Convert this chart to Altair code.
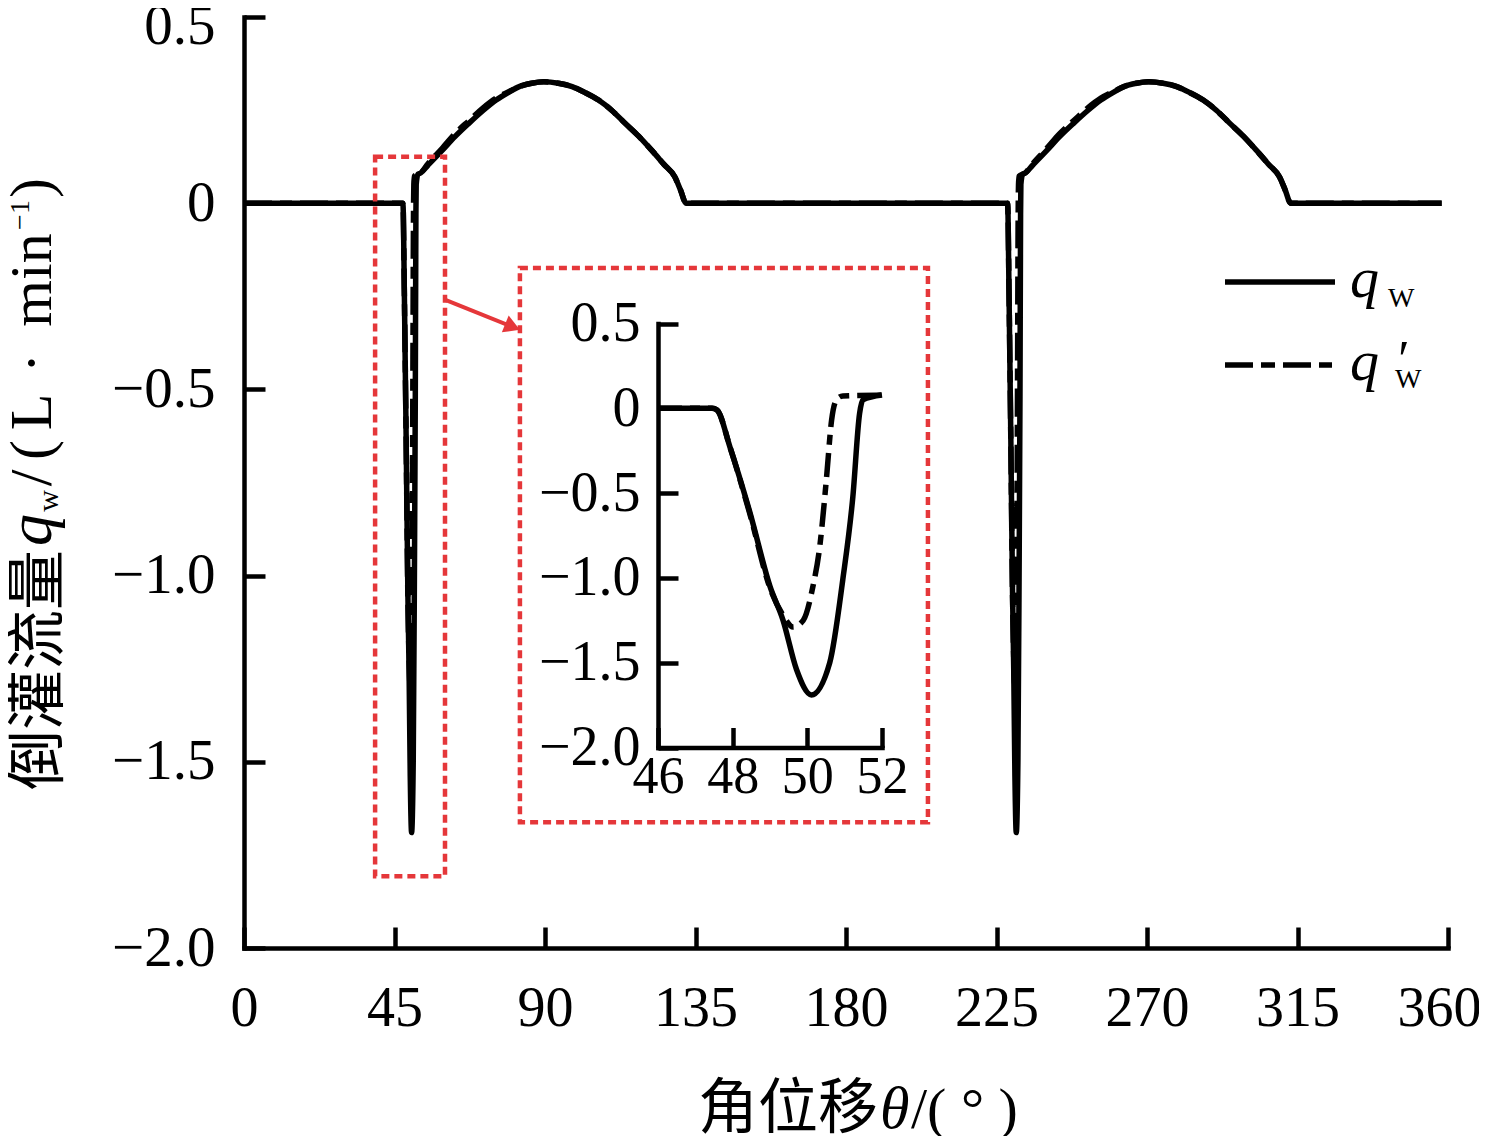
import altair as alt
import pandas as pd

SERIF = "Liberation Serif"
CJK = "Noto Sans CJK SC"
RED = "#E5373A"

# ---------------- data ----------------
# q_w  (solid)
theta_qw = [0, 46.0, 47.45, 47.58, 47.93, 48.47, 49.0, 49.35, 49.71, 50.11, 50.6, 50.95, 51.22, 51.4, 51.49,
            52.0, 52.6, 55.0, 59.4, 63.0, 67.3, 71.5, 75.4, 79.0, 82.3, 86.0, 89.7, 94.0, 98.1, 102.0, 106.0,
            110.0, 113.9, 118.0, 121.8, 125.5, 128.8, 130.5, 132.2,
            228.25, 228.38, 228.73, 229.27, 229.8, 230.15, 230.51, 230.91, 231.4, 231.75, 232.02, 232.2, 232.29,
            232.8, 233.4, 235.8, 240.2, 243.8, 248.1, 252.3, 256.2, 259.8, 263.1, 266.8, 270.5, 274.8, 278.9,
            282.8, 286.8, 290.8, 294.7, 298.8, 302.6, 306.3, 309.6, 311.3, 313.0, 358.1]
qw = [0, 0, 0, -0.01, -0.23, -0.62, -1.05, -1.25, -1.54, -1.69, -1.50, -1.01, -0.52, -0.03, 0.05,
      0.078, 0.08, 0.102, 0.143, 0.178, 0.215, 0.249, 0.277, 0.297, 0.313, 0.322, 0.326, 0.322, 0.313, 0.297, 0.277,
      0.249, 0.215, 0.18, 0.143, 0.105, 0.071, 0.036, 0,
      0, -0.01, -0.23, -0.62, -1.05, -1.25, -1.54, -1.69, -1.50, -1.01, -0.52, -0.03, 0.05,
      0.078, 0.08, 0.102, 0.143, 0.178, 0.215, 0.249, 0.277, 0.297, 0.313, 0.322, 0.326, 0.322, 0.313,
      0.297, 0.277, 0.249, 0.215, 0.18, 0.143, 0.105, 0.071, 0.036, 0, 0]

# q'_w  (dash-dot)
theta_qwp = [0, 46.0, 47.45, 47.58, 47.93, 48.47, 49.0, 49.35, 49.62, 49.89, 50.15, 50.33, 50.51, 50.65, 50.78,
             50.95, 52.0, 52.6, 55.0, 59.4, 63.0, 67.3, 71.5, 75.4, 79.0, 82.3, 86.0, 89.7, 94.0, 98.1, 102.0,
             106.0, 110.0, 113.9, 118.0, 121.8, 125.5, 128.8, 130.5, 132.2,
             228.25, 228.38, 228.73, 229.27, 229.8, 230.15, 230.42, 230.69, 230.95, 231.13, 231.31, 231.45, 231.58,
             231.75, 232.8, 233.4, 235.8, 240.2, 243.8, 248.1, 252.3, 256.2, 259.8, 263.1, 266.8, 270.5, 274.8,
             278.9, 282.8, 286.8, 290.8, 294.7, 298.8, 302.6, 306.3, 309.6, 311.3, 313.0, 358.1]
qwp = [0, 0, 0, -0.01, -0.23, -0.63, -1.06, -1.22, -1.29, -1.25, -1.05, -0.82, -0.42, -0.07, 0.05,
       0.073, 0.078, 0.08, 0.106, 0.149, 0.186, 0.222, 0.256, 0.282, 0.299, 0.313, 0.322, 0.326, 0.322, 0.313, 0.297,
       0.277, 0.249, 0.215, 0.18, 0.143, 0.105, 0.071, 0.036, 0,
       0, -0.01, -0.23, -0.63, -1.06, -1.22, -1.29, -1.25, -1.05, -0.82, -0.42, -0.07, 0.05,
       0.073, 0.078, 0.08, 0.106, 0.149, 0.186, 0.222, 0.256, 0.282, 0.299, 0.313, 0.322, 0.326, 0.322,
       0.313, 0.297, 0.277, 0.249, 0.215, 0.18, 0.143, 0.105, 0.071, 0.036, 0, 0]

x_ticks = [0, 45, 90, 135, 180, 225, 270, 315, 360]
y_ticks = [-2.0, -1.5, -1.0, -0.5, 0.0, 0.5]
inset_x_ticks = [46, 48, 50, 52]
inset_y_ticks = [-2.0, -1.5, -1.0, -0.5, 0.0, 0.5]

# zoom boxes and arrow (in main-axis units)
box_x1 = [39.2, 82.5]
box_x2 = [60.1, 204.5]
box_y1 = [0.125, -0.174]
box_y2 = [-1.807, -1.662]
arrow_x1 = [60.4]
arrow_y1 = [-0.26]
arrow_x2 = [80.3]
arrow_y2 = [-0.332]

# ---------------- layout ----------------
W, H = 1204, 931
INSET_X_RANGE = [414, 638]
INSET_Y_RANGE = [730.5, 306.5]

df_qw = pd.DataFrame({"theta": theta_qw, "q": qw})
df_qwp = pd.DataFrame({"theta": theta_qwp, "q": qwp})
df_in_qw = df_qw[(df_qw.theta >= 46) & (df_qw.theta <= 52)]
df_in_qwp = df_qwp[(df_qwp.theta >= 46) & (df_qwp.theta <= 52)]
df_box = pd.DataFrame({"x1": box_x1, "x2": box_x2, "y1": box_y1, "y2": box_y2})
df_arrow = pd.DataFrame({"x1": arrow_x1, "y1": arrow_y1, "x2": arrow_x2, "y2": arrow_y2})
one = pd.DataFrame({"k": [0]})

main_xs = alt.Scale(domain=[0, 360], nice=False, zero=False)
main_ys = alt.Scale(domain=[-2.0, 0.5], nice=False, zero=False)
in_xs = alt.Scale(domain=[46, 52], range=INSET_X_RANGE, nice=False, zero=False)
in_ys = alt.Scale(domain=[-2.0, 0.5], range=INSET_Y_RANGE, nice=False, zero=False)

LBL = "datum.value == 0 ? '0' : format(datum.value, '.1f')"


def label_axis(orient, values, size, pad, offset=0, expr=None, label_offset=None):
    kw = dict(orient=orient, values=values, labelFont=SERIF, labelFontSize=size, labelColor="black",
              labelPadding=pad, ticks=False, domain=True, domainColor="black", domainWidth=4.5,
              domainCap="square", grid=False, title=None, labelFlush=False, labelOverlap=False,
              offset=offset)
    if expr:
        kw["labelExpr"] = expr
    else:
        kw["format"] = "d"
    if label_offset is not None:
        kw["labelOffset"] = label_offset
    return alt.Axis(**kw)


def tick_axis(orient, values, offset, size=21):
    return alt.Axis(orient=orient, values=values, labels=False, domain=False, ticks=True, tickSize=size,
                    tickWidth=4.5, tickColor="black", grid=False, title=None, offset=offset)


top_label_shift = {"condition": {"test": "datum.value == 0.5", "value": 9}, "value": 0}
last_label_shift = {"condition": {"test": "datum.value == 360", "value": -9}, "value": 0}

main_qw = alt.Chart(df_qw).mark_line(color="black", strokeWidth=5.5, interpolate="monotone",
                                     strokeJoin="round").encode(
    x=alt.X("theta:Q", scale=main_xs, axis=label_axis("bottom", x_ticks, 56, 33,
                                                      label_offset=last_label_shift)),
    y=alt.Y("q:Q", scale=main_ys, axis=label_axis("left", y_ticks, 57, 29, expr=LBL,
                                                  label_offset=top_label_shift)),
    order="theta:Q")

main_qwp = alt.Chart(df_qwp).mark_line(color="black", strokeWidth=5.5, interpolate="monotone",
                                       strokeDash=[28, 8, 12, 8]).encode(
    x=alt.X("theta:Q", scale=main_xs, axis=tick_axis("top", x_ticks, -H)),
    y=alt.Y("q:Q", scale=main_ys, axis=tick_axis("right", y_ticks, -W)),
    order="theta:Q")

boxes = alt.Chart(df_box).mark_rect(fill="transparent", stroke=RED, strokeWidth=4.5,
                                    strokeDash=[8, 5]).encode(
    x=alt.X("x1:Q", scale=main_xs, axis=None), x2="x2:Q",
    y=alt.Y("y1:Q", scale=main_ys, axis=None), y2="y2:Q")

arrow_line = alt.Chart(df_arrow).mark_rule(color=RED, strokeWidth=4).encode(
    x=alt.X("x1:Q", scale=main_xs, axis=None), x2="x2:Q",
    y=alt.Y("y1:Q", scale=main_ys, axis=None), y2="y2:Q")

arrow_head = alt.Chart(df_arrow).mark_point(shape="triangle-right", filled=True, size=330, angle=22,
                                            color=RED, opacity=1).encode(
    x=alt.X("x2:Q", scale=main_xs, axis=None),
    y=alt.Y("y2:Q", scale=main_ys, axis=None))

inset_qw = alt.Chart(df_in_qw).mark_line(color="black", strokeWidth=5.5, interpolate="monotone",
                                         strokeJoin="round").encode(
    x=alt.X("theta:Q", scale=in_xs,
            axis=label_axis("bottom", inset_x_ticks, 52, 4, offset=INSET_Y_RANGE[0] - H)),
    y=alt.Y("q:Q", scale=in_ys,
            axis=label_axis("left", inset_y_ticks, 56, 18, offset=-INSET_X_RANGE[0], expr=LBL)),
    order="theta:Q")

inset_qwp = alt.Chart(df_in_qwp).mark_line(color="black", strokeWidth=5.5, interpolate="monotone",
                                           strokeDash=[24, 8, 10, 8]).encode(
    x=alt.X("theta:Q", scale=in_xs, axis=tick_axis("top", inset_x_ticks, -INSET_Y_RANGE[0], 20)),
    y=alt.Y("q:Q", scale=in_ys, axis=tick_axis("right", inset_y_ticks, INSET_X_RANGE[0] - W, 20)),
    order="theta:Q")

leg_solid = alt.Chart(one).mark_rule(color="black", strokeWidth=5.5).encode(
    x=alt.value(981), x2=alt.value(1091), y=alt.value(265))
leg_dash = alt.Chart(one).mark_rule(color="black", strokeWidth=5.5, strokeDash=[28, 8, 14, 8]).encode(
    x=alt.value(981), x2=alt.value(1088), y=alt.value(348))


def txt(s, x, y, size, font=SERIF, style="normal", angle=0, align="left"):
    return alt.Chart(one).mark_text(text=s, font=font, fontSize=size, fontStyle=style, angle=angle,
                                    align=align, baseline="alphabetic", color="black").encode(
        x=alt.value(x), y=alt.value(y))


XB = -193   # latin baseline of the rotated y title (relative to plot origin)
texts = [
    # legend
    txt("q", 1106, 280, 58, style="italic"),
    txt("W", 1144, 290, 28),
    txt("q", 1106, 363, 58, style="italic"),
    txt("\u2032", 1151, 360, 52, style="italic"),
    txt("W", 1151, 371, 28),
    # x title
    txt("角位移", 454, 1111, 60, font=CJK),
    txt("θ", 636, 1111, 60, style="italic"),
    txt("/( ° )", 667, 1111, 58),
    # y title (rotated)
    txt("倒灌流量", -186, 773, 60, font=CJK, angle=270),
    txt("q", XB, 513, 64, style="italic", angle=270, align="center"),
    txt("w", -186, 484, 30, angle=270, align="center"),
    txt("/", XB, 461, 60, angle=270, align="center"),
    txt("(", XB, 433, 60, angle=270, align="center"),
    txt("L", XB, 395, 60, angle=270, align="center"),
    txt("·", XB, 346, 60, angle=270, align="center"),
    txt("min", XB, 263, 60, angle=270, align="center"),
    txt("\u22121", -215, 198, 28, angle=270, align="center"),
    txt(")", XB, 171, 60, angle=270, align="center"),
]

chart = alt.layer(main_qw, main_qwp, boxes, arrow_line, arrow_head, inset_qw, inset_qwp,
                  leg_solid, leg_dash, *texts).resolve_scale(
    x="independent", y="independent").resolve_axis(x="independent", y="independent").properties(
    width=W, height=H,
    autosize=alt.AutoSizeParams(type="none"),
    padding={"left": 236, "top": 9, "right": 31, "bottom": 188},
    background="white",
).configure_view(strokeWidth=0)

chart.save("out.html", embed_options={"renderer": "svg", "actions": False})
